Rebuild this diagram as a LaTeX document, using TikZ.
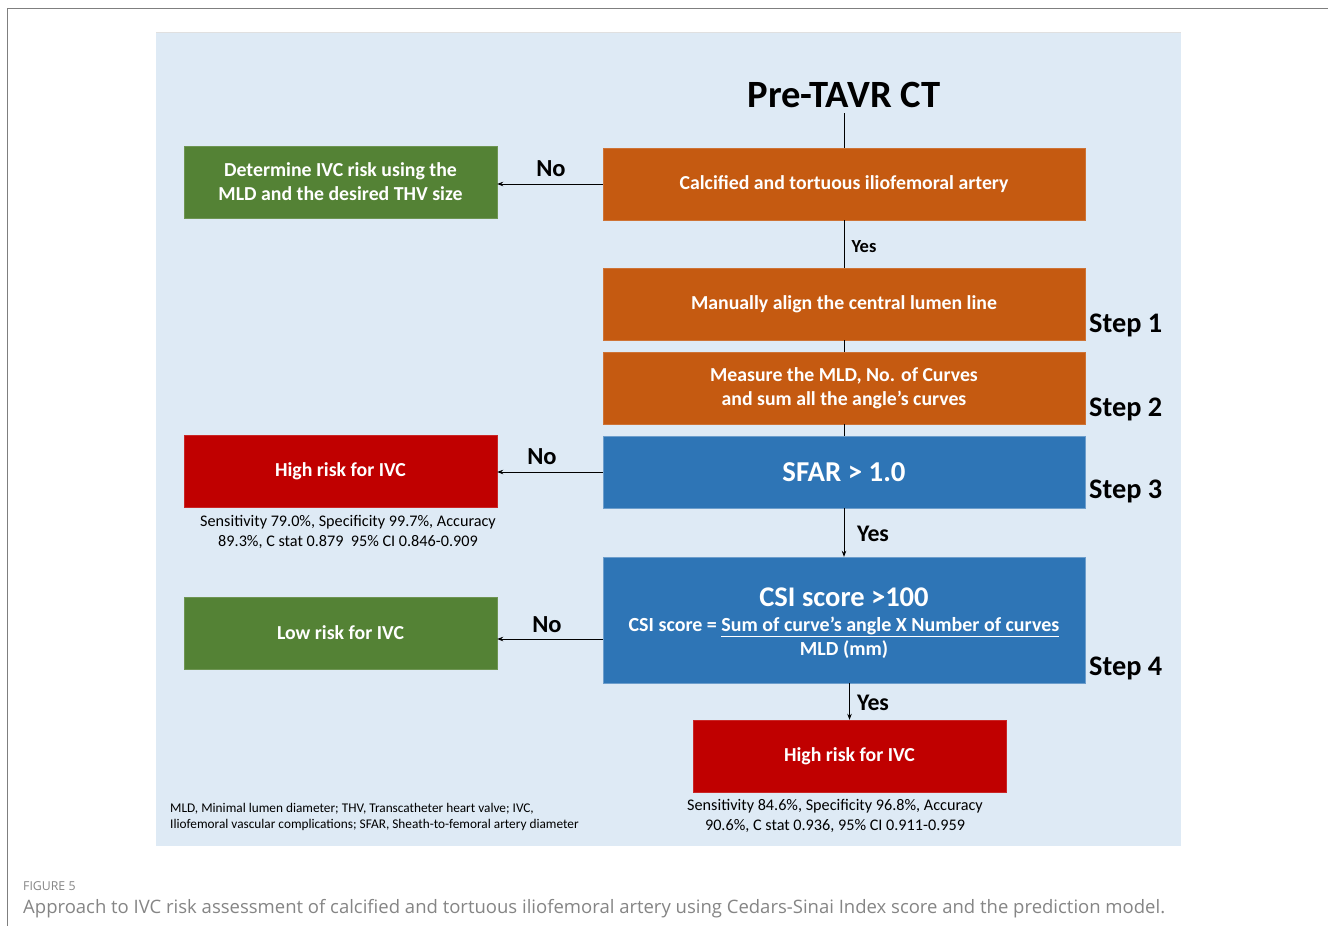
\documentclass[tikz,border=0pt]{standalone}
\usepackage{fontspec}
\setmainfont{Carlito}
\newfontfamily\capfont{Open Sans}
\usetikzlibrary{arrows.meta}
\definecolor{bgblue}{HTML}{DEEAF5}
\definecolor{borange}{HTML}{C55A11}
\definecolor{bgreen}{HTML}{548235}
\definecolor{bred}{HTML}{C00000}
\definecolor{bblue}{HTML}{2E75B6}
\definecolor{capgray}{HTML}{858585}
\definecolor{framegray}{HTML}{7F7F7F}
\tikzset{
  box/.style={rectangle, inner sep=0pt, align=center, text=white, font=\bfseries\fontsize{19.8}{24}\selectfont},
  obox/.style={box, fill=borange, draw=borange!85!white, minimum width=482pt, minimum height=72pt},
  gbox/.style={box, fill=bgreen, draw=bgreen!85!white, minimum width=313pt, minimum height=72pt},
  rbox/.style={box, fill=bred, draw=bred!85!white, minimum width=313pt, minimum height=72pt},
  bbox/.style={box, fill=bblue, draw=bblue!70!white, minimum width=482pt},
  conn/.style={draw=black, line width=0.8pt},
  arr/.style={conn, -{Stealth[length=6pt,width=4.5pt]}},
  lblbig/.style={font=\bfseries\fontsize{24.5}{28}\selectfont, inner sep=0pt},
  lblyes/.style={font=\bfseries\fontsize{23.8}{28}\selectfont, inner sep=0pt},
  lblsmall/.style={font=\bfseries\fontsize{18.5}{22}\selectfont, inner sep=0pt},
  steplbl/.style={font=\bfseries\fontsize{28.3}{32}\selectfont, inner sep=0pt, anchor=west},
  stat/.style={font=\fontsize{16.2}{19.5}\selectfont, align=center, inner sep=0pt},
}
\begin{document}
\begin{tikzpicture}[x=1pt,y=-1pt]
\useasboundingbox (0,0) rectangle (1328,926);
\fill[white] (0,0) rectangle (1328,926);
% frame
\draw[framegray, line width=1pt] (7,926) -- (7,8) -- (1328,8);
% background
\fill[bgblue] (156,32) rectangle (1181,846);
\draw[black!12, line width=0.8pt] (156,32.5) -- (1181,32.5);

% title
\node[font=\bfseries\fontsize{38.6}{42}\selectfont, inner sep=0pt] (title) at (844,95) {Pre-TAVR CT};
\coordinate (tb) at (844,113);

% main column
\node[obox] (b1) at (844,184) {Calcified and tortuous iliofemoral artery};
\node[obox] (b2) at (844,304) {Manually align the central lumen line};
\node[obox] (b3) at (844,388) {Measure the MLD, No. of Curves\\and sum all the angle’s curves};
\node[bbox, minimum height=72pt, font=\bfseries\fontsize{28.8}{32}\selectfont] (b4) at (844,472) {SFAR > 1.0};
\node[bbox, minimum height=126pt] (b5) at (844,620) {};
\node[text=white, font=\bfseries\fontsize{28.5}{32}\selectfont, inner sep=0pt] (csiA) at (844,597) {CSI score >100};
\node[text=white, font=\bfseries\fontsize{20}{24}\selectfont, inner sep=0pt] (csiB) at (844,627) {CSI score = \underline{Sum of curve’s angle X Number of curves}};
\node[text=white, font=\bfseries\fontsize{20}{24}\selectfont, inner sep=0pt] (csiC) at (844,650) {MLD (mm)};
\node[rbox] (r2) at (849.5,756) {High risk for IVC};

% left column
\node[gbox] (g1) at (340.5,182) {Determine IVC risk using the\\MLD and the desired THV size};
\node[rbox] (r1) at (340.5,471) {High risk for IVC};
\node[gbox] (g2) at (340.5,633) {Low risk for IVC};

% steps
\node[steplbl] (s1) at (1089,325) {Step 1};
\node[steplbl] (s2) at (1089,409) {Step 2};
\node[steplbl] (s3) at (1089,491) {Step 3};
\node[steplbl] (s4) at (1089,668) {Step 4};

% connectors
\draw[conn] (tb) -- (b1.north);
\draw[conn] (b1.south) -- (b2.north);
\draw[conn] (b2.south) -- (b3.north);
\draw[conn] (b3.south) -- (b4.north);
\draw[arr] (b4.south) -- (b5.north);
\draw[arr] (b5.south -| r2.north) -- (r2.north);
\draw[arr] (b1.west) -- (b1.west -| g1.east);
\draw[arr] (b4.west) -- (b4.west -| r1.east);
\coordinate (n3) at (603,639);
\draw[arr] (n3) -- (n3 -| g2.east);

% labels
\node[lblbig] (no1) at (551,169) {No};
\node[lblbig] (no2) at (542,457) {No};
\node[lblbig] (no3) at (547,625) {No};
\node[lblsmall] (yes1) at (864,247) {Yes};
\node[lblyes] (yes2) at (873,534) {Yes};
\node[lblyes] (yes3) at (873,703) {Yes};

% stats
\node[stat] (st1) at (348,532) {Sensitivity 79.0\%, Specificity 99.7\%, Accuracy\\89.3\%, C stat 0.879\ \ 95\% CI 0.846-0.909};
\node[stat] (st2) at (835,816) {Sensitivity 84.6\%, Specificity 96.8\%, Accuracy\\90.6\%, C stat 0.936, 95\% CI 0.911-0.959};

% footnote
\node[font=\fontsize{13.3}{16}\selectfont, align=left, anchor=west, inner sep=0pt] (fn) at (170,817) {MLD, Minimal lumen diameter; THV, Transcatheter heart valve; IVC,\\Iliofemoral vascular complications; SFAR, Sheath-to-femoral artery diameter};

% caption
\node[text=capgray, font=\capfont\fontsize{12.3}{14}\selectfont, anchor=west, inner sep=0pt] (fig) at (23,886) {FIGURE 5};
\node[text=capgray, font=\capfont\fontsize{18.5}{22}\selectfont, anchor=west, inner sep=0pt] (cap) at (23,909) {Approach to IVC risk assessment of calcified and tortuous iliofemoral artery using Cedars-Sinai Index score and the prediction model.};
\end{tikzpicture}
\end{document}
